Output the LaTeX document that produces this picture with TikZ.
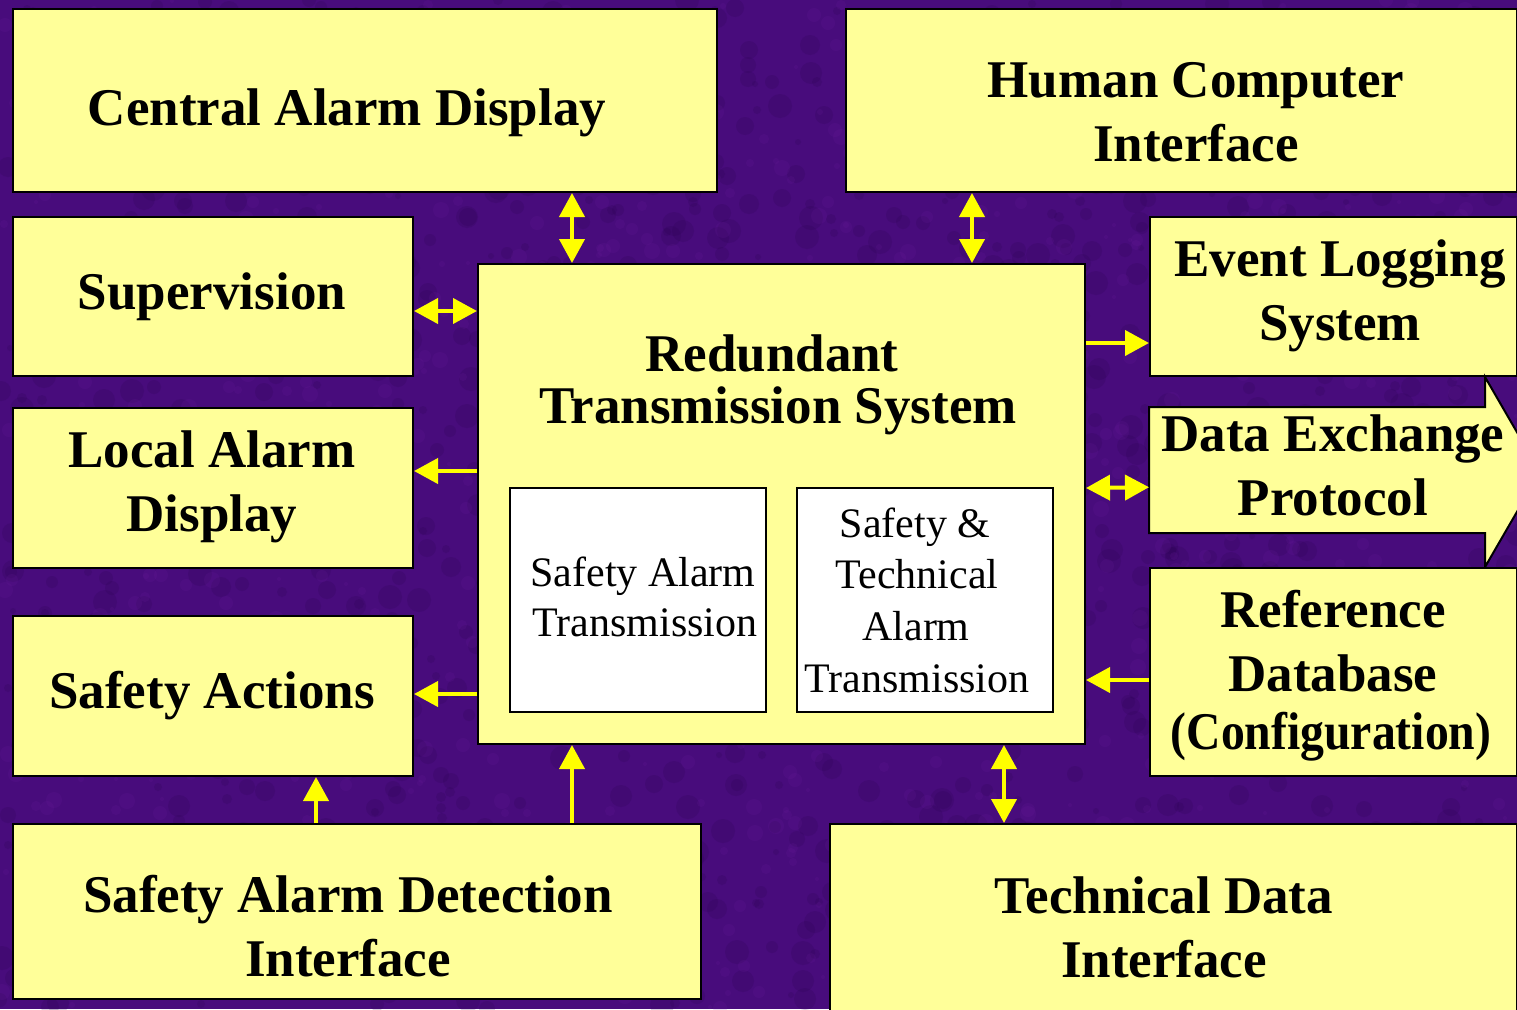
\documentclass[tikz,border=0pt]{standalone}
\usepackage{fontspec}
\setmainfont{Liberation Serif}
\usetikzlibrary{arrows.meta}
\definecolor{bgpurple}{RGB}{72,12,124}
\definecolor{bgdark}{RGB}{40,2,78}
\definecolor{bglight}{RGB}{112,32,160}
\definecolor{boxyellow}{RGB}{255,255,153}
\definecolor{arrowyellow}{RGB}{255,255,0}
\begin{document}
\begin{tikzpicture}[x=1pt,y=-1pt,
  box/.style={draw=black,line width=2pt,fill=boxyellow,inner sep=0pt,anchor=north west},
  inbox/.style={draw=black,line width=1.6pt,fill=white,inner sep=0pt,anchor=north west},
  ghost/.style={draw=none,fill=none,inner sep=0pt,anchor=north west},
  btxt/.style={font=\fontsize{53}{62}\selectfont\bfseries,inner sep=0pt,anchor=base},
  rtxt/.style={font=\fontsize{42}{51}\selectfont,inner sep=0pt,anchor=base},
  conn/.style={draw=arrowyellow,line width=4pt,arrows={-Triangle[width=25pt,length=24pt]}},
  conntwo/.style={draw=arrowyellow,line width=4pt,arrows={Triangle[width=25pt,length=24pt]-Triangle[width=25pt,length=24pt]}}
]
\useasboundingbox (0,0) rectangle (1517,1009);
\clip (0,0) rectangle (1517,1009);
% background
\fill[bgpurple] (0,0) rectangle (1517,1009);
\pgfmathsetseed{7}
\foreach \i in {1,...,1400}{
  \pgfmathsetmacro\xx{random(0,1517)}
  \pgfmathsetmacro\yy{random(0,1009)}
  \pgfmathsetmacro\rr{random(3,12)}
  \fill[bgdark,opacity=0.18] (\xx,\yy) circle[radius=\rr pt];
}
\foreach \i in {1,...,900}{
  \pgfmathsetmacro\xx{random(0,1517)}
  \pgfmathsetmacro\yy{random(0,1009)}
  \pgfmathsetmacro\rr{random(2,8)}
  \fill[bglight,opacity=0.15] (\xx,\yy) circle[radius=\rr pt];
}
% boxes
\node[box,minimum width=704,minimum height=183] (cad) at (12,8) {};
\node[box,minimum width=671,minimum height=183] (hci) at (845,8) {};
\node[box,minimum width=400,minimum height=159] (sup) at (12,216) {};
\node[box,minimum width=400,minimum height=160] (lad) at (12,407) {};
\node[box,minimum width=400,minimum height=160] (sa) at (12,615) {};
\node[box,minimum width=688,minimum height=175] (sad) at (12,823) {};
\node[box,minimum width=607,minimum height=480] (rts) at (477,263) {};
\node[inbox,minimum width=256,minimum height=224] (sat) at (509,487) {};
\node[inbox,minimum width=256,minimum height=224] (stat) at (796,487) {};
\node[box,minimum width=367,minimum height=159] (els) at (1149,216) {};
\draw[line width=2pt,fill=boxyellow] (1149,407) -- (1485,407) -- (1485,377) -- (1540,472) -- (1485,567) -- (1485,533) -- (1149,533) -- cycle;
\node[ghost,minimum width=336,minimum height=126] (dep) at (1149,407) {};
\node[box,minimum width=367,minimum height=208] (rdb) at (1149,567) {};
\node[box,minimum width=687,minimum height=200] (tdi) at (829,823) {};
% connectors
\draw[conntwo] ([xshift=560pt]cad.south west) -- ([xshift=95pt]rts.north west);
\draw[conntwo] ([xshift=127pt]hci.south west) -- ([xshift=495pt]rts.north west);
\draw[conntwo] ([yshift=-95pt]sup.north east) -- ([yshift=-48pt]rts.north west);
\draw[conn] ([yshift=33pt]rts.west) -- ([yshift=17pt]lad.east);
\draw[conn] ([yshift=-190pt]rts.west) -- ([yshift=2pt]sa.east);
\draw[conn] ([yshift=161pt]rts.east) -- ([yshift=-46.5pt]els.west);
\draw[conntwo] ([yshift=16pt]rts.east) -- ([yshift=-17pt]dep.west);
\draw[conn] ([yshift=-8pt]rdb.west) -- ([yshift=-176pt]rts.east);
\draw[conntwo] ([xshift=527pt]rts.south west) -- ([xshift=175pt]tdi.north west);
\draw[conn] ([xshift=304pt]sad.north west) -- ([xshift=304pt]sa.south west);
\draw[conn] ([xshift=560pt]sad.north west) -- ([xshift=95pt]rts.south west);
% texts
\node[btxt] (t1) at (347,125) {Central Alarm Display};
\node[btxt] (t2) at (1196,97) {Human Computer};
\node[btxt] (t3) at (1196,161) {Interface};
\node[btxt] (t4) at (212,309) {Supervision};
\node[btxt] (t5) at (212,467) {Local Alarm};
\node[btxt] (t6) at (212,531) {Display};
\node[btxt] (t7) at (212,708) {Safety Actions};
\node[btxt] (t8) at (348,912) {Safety Alarm Detection};
\node[btxt] (t9) at (348,976) {Interface};
\node[btxt] (t10) at (1164,913) {Technical Data};
\node[btxt] (t11) at (1164,977) {Interface};
\node[btxt] (t12) at (772,371) {Redundant};
\node[btxt] (t13) at (778,423) {Transmission System};
\node[btxt] (t14) at (1340,276) {Event Logging};
\node[btxt] (t15) at (1340,340) {System};
\node[btxt] (t16) at (1333,451) {Data Exchange};
\node[btxt] (t17) at (1333,515) {Protocol};
\node[btxt] (t18) at (1333,627) {Reference};
\node[btxt] (t19) at (1333,691) {Database};
\node[btxt] (t20) at (1331,749) {\scalebox{0.9}[1]{(Configuration)}};
\node[rtxt] (t21) at (643,586) {Safety Alarm};
\node[rtxt] (t22) at (645,636) {Transmission};
\node[rtxt] (t23) at (915,537) {Safety \&};
\node[rtxt] (t24) at (917,588) {Technical};
\node[rtxt] (t25) at (916,640) {Alarm};
\node[rtxt] (t26) at (917,692) {Transmission};
\end{tikzpicture}
\end{document}
